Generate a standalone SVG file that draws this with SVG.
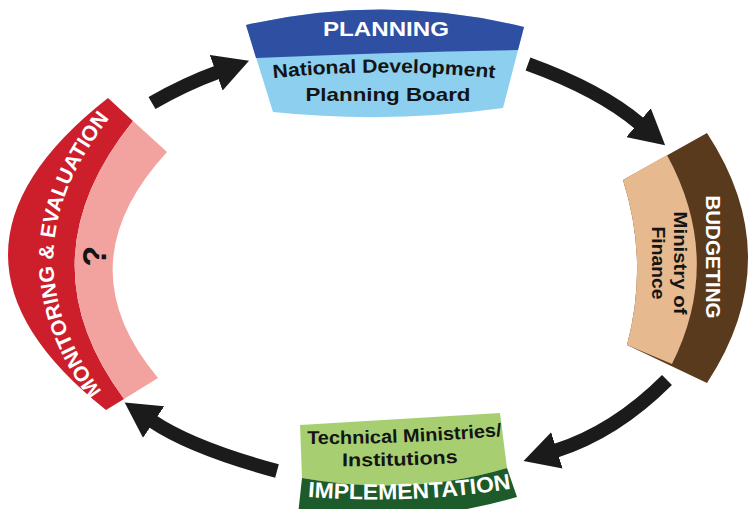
<svg xmlns="http://www.w3.org/2000/svg" width="750" height="509" viewBox="0 0 750 509">
  <style>
    text { font-family: "Liberation Sans", "Open Sans", Arial, sans-serif; font-weight: 700; }
    .head { fill: #ffffff; }
    .body { fill: #141414; }
    .arrow { fill: none; stroke: #1b1b1b; stroke-width: 14; stroke-linecap: butt; marker-end: url(#ah); }
  </style>
  <defs>
    <marker id="ah" markerUnits="userSpaceOnUse" markerWidth="36" markerHeight="38" viewBox="0 0 36 38" refX="2" refY="19" orient="auto">
      <path d="M0,0 L35,19 L0,38 Z" fill="#1b1b1b"/>
    </marker>
    <path id="pNat" d="M 262,79.5 Q 384,65.5 506,79.5"/>
    <path id="pBoard" d="M 290,100.5 L 486,100.5"/>
    <path id="pME" d="M 110,402 Q -7,255 118,108"/>
    <path id="pTech" d="M 297,444 Q 405,445 512,435"/>
    <path id="pInst" d="M 330,466 Q 400,467 470,462"/>
    <path id="pImpl" d="M 297,496 Q 410,506 522,487"/>
  </defs>

  <g id="connectors">
    <path class="arrow" d="M 152,103 Q 185,84 218,72"/>
    <path class="arrow" d="M 528,64 Q 600,90 640,124"/>
    <path class="arrow" d="M 667,380 Q 615,432 555,451"/>
    <path class="arrow" d="M 277,471 Q 192,448 152,421"/>
  </g>

  <g id="planning">
    <path d="M 246,25 Q 386,-7 524,27 L 503,108 Q 388,124 273,112 Z" fill="#8ccfee"/>
    <path d="M 246,25 Q 386,-7 524,27 L 518,50 Q 390,52 256,58 Z" fill="#2f4fa3"/>
    <text class="head" x="386" y="36" font-size="21" text-anchor="middle" textLength="126" lengthAdjust="spacingAndGlyphs">PLANNING</text>
    <text class="body" font-size="19" text-anchor="middle"><textPath href="#pNat" startOffset="50%" textLength="222" lengthAdjust="spacingAndGlyphs">National Development</textPath></text>
    <text class="body" font-size="18.5" text-anchor="middle"><textPath href="#pBoard" startOffset="50%" textLength="165" lengthAdjust="spacingAndGlyphs">Planning Board</textPath></text>
  </g>

  <g id="budgeting">
    <path d="M 623,180 L 707,133 Q 789,258 707,383 L 627,345 Q 649,262 623,180 Z" fill="#5a3a1c"/>
    <path d="M 623,180 L 667,155 Q 724,260 672,364 L 627,345 Q 649,262 623,180 Z" fill="#e6b98f"/>
    <text class="head" font-size="20.5" text-anchor="middle" textLength="123" lengthAdjust="spacingAndGlyphs" transform="translate(706,257) rotate(90)">BUDGETING</text>
    <text class="body" font-size="19" text-anchor="middle" textLength="103" lengthAdjust="spacingAndGlyphs" transform="translate(674,263) rotate(90)">Ministry of</text>
    <text class="body" font-size="19" text-anchor="middle" textLength="73" lengthAdjust="spacingAndGlyphs" transform="translate(652,263) rotate(90)">Finance</text>
  </g>

  <g id="implementation">
    <path d="M 300,425 L 500,413 L 507,468 Q 410,497 302,478 Z" fill="#a7cf72"/>
    <path d="M 302,478 Q 410,497 507,468 L 517,497 Q 410,528 298,515 Z" fill="#1d5b2b"/>
    <text class="body" font-size="18.5" text-anchor="middle"><textPath href="#pTech" startOffset="50%" textLength="195" lengthAdjust="spacingAndGlyphs">Technical Ministries/</textPath></text>
    <text class="body" font-size="18.5" text-anchor="middle"><textPath href="#pInst" startOffset="50%" textLength="116" lengthAdjust="spacingAndGlyphs">Institutions</textPath></text>
    <text class="head" font-size="22" text-anchor="middle"><textPath href="#pImpl" startOffset="50%" textLength="204" lengthAdjust="spacingAndGlyphs">IMPLEMENTATION</textPath></text>
  </g>

  <g id="monitoring">
    <path d="M 108,98 L 133,121 Q 21,260 124,399 L 106,410 Q -91,254 108,98 Z" fill="#cc1e2b"/>
    <path d="M 133,121 L 167,152 Q 63,265 158,378 L 124,399 Q 21,260 133,121 Z" fill="#f3a39f"/>
    <text class="head" font-size="21" text-anchor="middle"><textPath href="#pME" startOffset="50%" textLength="298" lengthAdjust="spacingAndGlyphs">MONITORING &amp; EVALUATION</textPath></text>
    <text class="body" font-size="34" text-anchor="middle" transform="translate(106,256) rotate(-90)">?</text>
  </g>
</svg>
